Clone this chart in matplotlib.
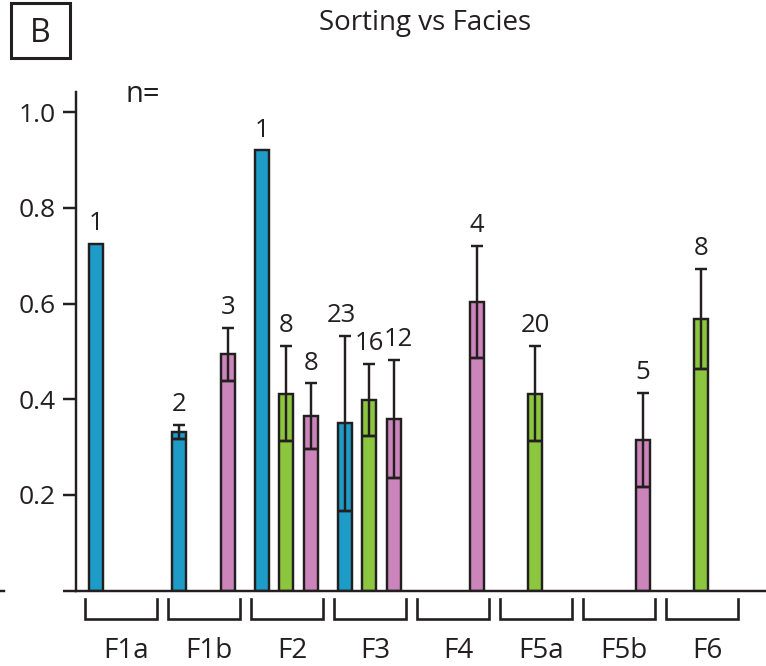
import numpy as np
import matplotlib
matplotlib.use("Agg")
import matplotlib.pyplot as plt
from matplotlib.patches import Rectangle
from matplotlib.lines import Line2D
from matplotlib.transforms import blended_transform_factory

plt.rcParams['font.family'] = ['Open Sans', 'DejaVu Sans']

# ---------------- data ----------------
facies = ['F1a', 'F1b', 'F2', 'F3', 'F4', 'F5a', 'F5b', 'F6']
nan = np.nan

blue_mean = [0.724, 0.332, 0.920, 0.350, nan, nan, nan, nan]
blue_err = [0.0, 0.015, 0.0, 0.183, nan, nan, nan, nan]
blue_n = [1, 2, 1, 23, None, None, None, None]

green_mean = [nan, nan, 0.412, 0.398, nan, 0.412, nan, 0.568]
green_err = [nan, nan, 0.100, 0.075, nan, 0.100, nan, 0.105]
green_n = [None, None, 8, 16, None, 20, None, 8]

purple_mean = [nan, 0.494, 0.365, 0.359, 0.604, nan, 0.315, nan]
purple_err = [nan, 0.055, 0.068, 0.123, 0.117, nan, 0.098, nan]
purple_n = [None, 3, 8, 12, 4, None, 5, None]

title = 'Sorting vs Facies'
yticks = [0.0, 0.2, 0.4, 0.6, 0.8, 1.0]
ytick_labels = ['', '0.2', '0.4', '0.6', '0.8', '1.0']

# ---------------- style ----------------
EDGE = '#231f20'
BLUE = '#1d9cc7'
GREEN = '#8cc63f'
PURPLE = '#cc85bb'
LW = 1.75

# small horizontal nudges (points) of crowded count labels: (series, facies index)
label_nudge = {('blue', 3): -2.5, ('purple', 3): 3.0}

W, H = 766, 666
fig = plt.figure(figsize=(W / 100, H / 100), dpi=100)
ax = fig.add_axes([76 / W, (H - 590.7) / H, 690 / W, (590.7 - 92) / H])

x = np.arange(len(facies))
width = 0.175
series = [
    ('blue', blue_mean, blue_err, blue_n, BLUE, -0.30),
    ('green', green_mean, green_err, green_n, GREEN, -0.01),
    ('purple', purple_mean, purple_err, purple_n, PURPLE, 0.29),
]

for name, mean, err, ns, col, off in series:
    mean = np.array(mean, dtype=float)
    err = np.array(err, dtype=float)
    m = ~np.isnan(mean)
    xs = x[m] + off
    ax.bar(xs, mean[m], width, color=col, edgecolor=EDGE, linewidth=LW, zorder=2)
    em = m & (np.nan_to_num(err) > 0)
    xe = x[em] + off
    ax.errorbar(xe, mean[em], yerr=err[em], fmt='none', ecolor=EDGE,
                elinewidth=LW, capsize=4.3, capthick=LW, zorder=3)
    ax.hlines(mean[em] - err[em], xe - width / 2, xe + width / 2,
              colors=EDGE, linewidth=LW, zorder=3)
    for i in np.where(m)[0]:
        top = mean[i] + (err[i] if not np.isnan(err[i]) else 0)
        dx = label_nudge.get((name, i), 0.0)
        ax.annotate(str(ns[i]), (x[i] + off, top), xytext=(dx, 10),
                    textcoords='offset points', ha='center', va='baseline',
                    fontsize=18.5, color=EDGE)

ax.set_xlim(-0.542, 7.771)
ax.set_ylim(0, 1.042)
for s in ['top', 'right']:
    ax.spines[s].set_visible(False)
for s in ['left', 'bottom']:
    ax.spines[s].set_color(EDGE)
    ax.spines[s].set_linewidth(LW)

ax.set_xticks([])
ax.set_yticks(yticks)
ax.set_yticklabels(ytick_labels)
ax.tick_params(axis='y', direction='out', length=9.4, width=LW, pad=5,
               labelsize=19, colors=EDGE)

# brackets and facies labels
trans = blended_transform_factory(ax.transData, ax.transAxes)
for i, lab in enumerate(facies):
    ax.plot([i - 0.434, i - 0.434, i + 0.434, i + 0.434],
            [-0.0166, -0.0567, -0.0567, -0.0166], transform=trans,
            clip_on=False, color=EDGE, lw=1.9, solid_joinstyle='miter')
    ax.text(i + 0.06, -0.135, lab, transform=trans, ha='center',
            va='baseline', fontsize=20, color=EDGE)

# titles / annotations
fig.text(425 / W, 1 - 30 / H, title, ha='center', va='baseline',
         fontsize=20, color=EDGE)
fig.text(126 / W, 1 - 102 / H, 'n=', ha='left', va='baseline',
         fontsize=21, color=EDGE)
fig.add_artist(Rectangle((10.5 / W, 1 - 57.5 / H), 59 / W, 54.5 / H,
                         transform=fig.transFigure, fill=False, lw=2.2,
                         edgecolor=EDGE))
fig.text(40 / W, 1 - 41.7 / H, 'B', ha='center', va='baseline',
         fontsize=23, color=EDGE)
fig.add_artist(Line2D([0, 4 / W], [1 - 590.7 / H] * 2,
                      transform=fig.transFigure, color=EDGE, lw=LW))

fig.savefig('out.png', dpi=100)
